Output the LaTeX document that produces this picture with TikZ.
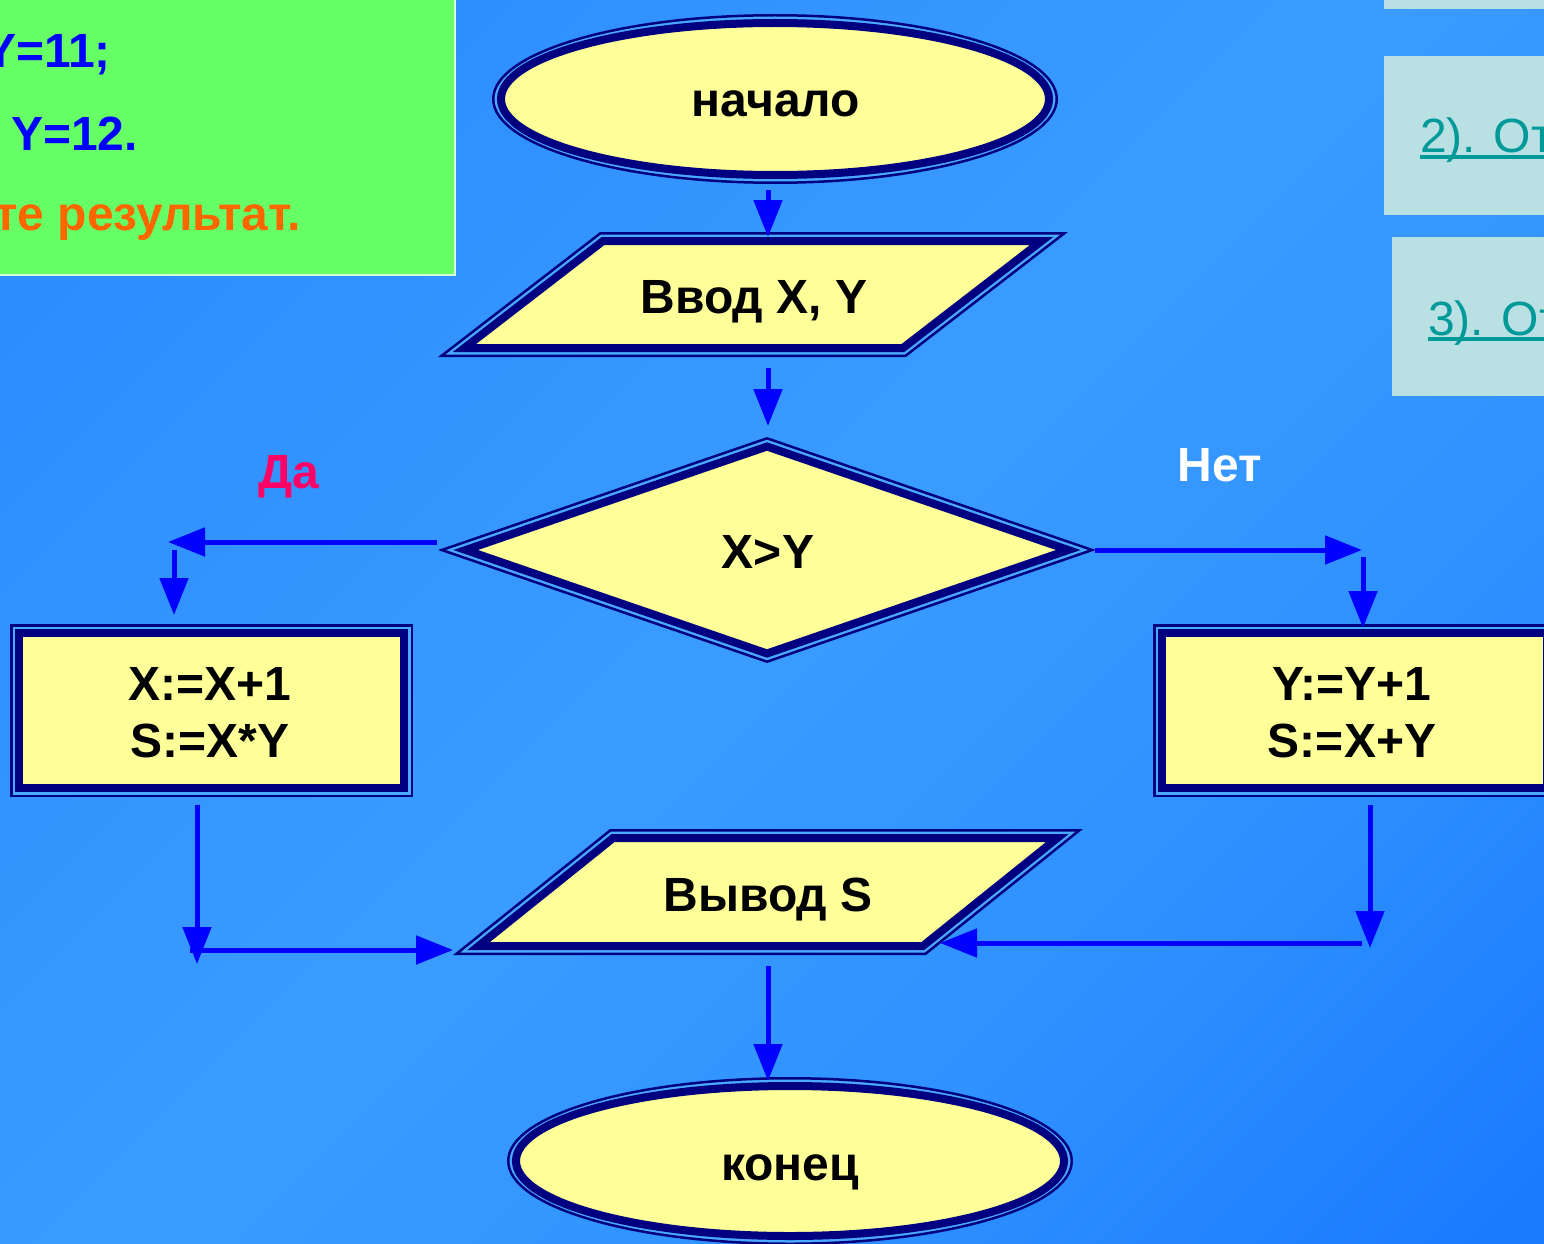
\documentclass[tikz,border=0pt]{standalone}
\usepackage{fontspec}
\setmainfont{Liberation Sans}
\usetikzlibrary{arrows.meta}
\definecolor{navy}{HTML}{000080}
\definecolor{gapc}{HTML}{4AAAFF}
\definecolor{yel}{HTML}{FFFF99}
\definecolor{arrc}{HTML}{0000FF}
\definecolor{grn}{HTML}{66FF66}
\definecolor{cyb}{HTML}{B9E0E3}
\definecolor{tealt}{HTML}{009999}
\definecolor{org}{HTML}{FF6600}
\definecolor{mag}{HTML}{FF0066}
\pgfdeclareverticalshading{bgshade}{100bp}{%
  color(0bp)=(rgb,255:red,10;green,100;blue,255);
  color(14bp)=(rgb,255:red,24;green,120;blue,255);
  color(32bp)=(rgb,255:red,46;green,144;blue,255);
  color(50bp)=(rgb,255:red,58;green,156;blue,255);
  color(75bp)=(rgb,255:red,46;green,142;blue,255);
  color(100bp)=(rgb,255:red,37;green,133;blue,255)}
\tikzset{
  outerb/.style={fill=gapc, draw=navy, line width=2.5pt},
  innerb/.style={fill=yel, draw=navy, line width=8pt, line join=miter},
  lbl/.style={font=\fontsize{48}{58}\selectfont\bfseries, anchor=base, inner sep=0pt},
  rlbl/.style={font=\fontsize{48}{58}\selectfont, anchor=base west, inner sep=0pt, text=tealt},
  arr/.style={draw=arrc, line width=5pt, -{Triangle[length=37pt,width=28pt]}},
}
\newcommand\dblell[4]{%
  \filldraw[outerb] (#1,#2) ellipse [x radius=#3pt-1.25pt, y radius=#4pt-1.25pt];
  \filldraw[innerb] (#1,#2) ellipse [x radius=#3pt-9pt, y radius=#4pt-9pt];}
\newcommand\dblrect[4]{%
  \filldraw[outerb] (#1+1.25,#2+1.25) rectangle (#3-1.25,#4-1.25);
  \filldraw[innerb] (#1+9,#2+9) rectangle (#3-9,#4-9);}
\newcommand\dbldia[4]{%
  \pgfmathsetmacro\dgL{100*sqrt((#3/100)^2+(#4/100)^2)}%
  \pgfmathsetmacro\dgAa{#3-1.25*\dgL/#4}\pgfmathsetmacro\dgBa{#4-1.25*\dgL/#3}%
  \pgfmathsetmacro\dgAb{#3-9*\dgL/#4}\pgfmathsetmacro\dgBb{#4-9*\dgL/#3}%
  \filldraw[outerb] (#1-\dgAa,#2) -- (#1,#2-\dgBa) -- (#1+\dgAa,#2) -- (#1,#2+\dgBa) -- cycle;
  \filldraw[innerb] (#1-\dgAb,#2) -- (#1,#2-\dgBb) -- (#1+\dgAb,#2) -- (#1,#2+\dgBb) -- cycle;}
\newcommand\dblpg[5]{%
  \pgfmathsetmacro\pgS{sqrt(1+#5*#5)}%
  \pgfmathsetmacro\pgHa{#4-1.25}\pgfmathsetmacro\pgWa{#3-1.25*\pgS}%
  \pgfmathsetmacro\pgHb{#4-9}\pgfmathsetmacro\pgWb{#3-9*\pgS}%
  \filldraw[outerb] ({#1-\pgWa+#5*\pgHa},{#2-\pgHa}) -- ({#1+\pgWa+#5*\pgHa},{#2-\pgHa}) -- ({#1+\pgWa-#5*\pgHa},{#2+\pgHa}) -- ({#1-\pgWa-#5*\pgHa},{#2+\pgHa}) -- cycle;
  \filldraw[innerb] ({#1-\pgWb+#5*\pgHb},{#2-\pgHb}) -- ({#1+\pgWb+#5*\pgHb},{#2-\pgHb}) -- ({#1+\pgWb-#5*\pgHb},{#2+\pgHb}) -- ({#1-\pgWb-#5*\pgHb},{#2+\pgHb}) -- cycle;}
\begin{document}
\begin{tikzpicture}[x=1pt,y=-1pt]
\useasboundingbox (0,0) rectangle (1544,1244);
\clip (0,0) rectangle (1544,1244);
% background
\shade[shading=bgshade, shading angle=45] (0,0) rectangle (1544,1244);
% green task box
\filldraw[fill=grn, draw=white!75!grn, line width=2pt] (-10,-10) rectangle (455,275);
\node[lbl, anchor=base west, text=arrc] (g1) at (-16,68) {Y=11;};
\node[lbl, anchor=base west, text=arrc] (g2) at (11,150) {Y=12.};
\node[lbl, anchor=base west, text=org] (g3) at (-6,230) {те результат.};
% right panels
\fill[cyb] (1384,-10) rectangle (1560,9);
\fill[cyb] (1384,56) rectangle (1560,215);
\fill[cyb] (1392,237) rectangle (1560,396);
\node[rlbl] (p2) at (1420,153) {2). От};
\node[rlbl] (p3) at (1428,335) {3). От};
\draw[tealt, line width=4pt] (1420,157) -- (1550,157);
\draw[tealt, line width=4pt] (1428,339) -- (1550,339);
% shapes
\dblell{775}{99}{283}{85}
\dblpg{753}{294.5}{234}{62.5}{1.296}
\dbldia{767}{550}{329}{113}
\dblrect{10}{624}{413}{797}
\dblrect{1153}{624}{1556}{797}
\dblpg{768}{892}{236.5}{63}{1.246}
\dblell{790}{1161}{283}{84}
% texts
\node[lbl] (tstart) at (776,117) {начало};
\node[lbl] (tin) at (754,313) {Ввод X, Y};
\node[lbl] (tcond) at (768,568) {X>Y};
\node[lbl] (tl1) at (210,700) {X:=X+1};
\node[lbl] (tl2) at (210,757) {S:=X*Y};
\node[lbl] (tr1) at (1352,700) {Y:=Y+1};
\node[lbl] (tr2) at (1352,757) {S:=X+Y};
\node[lbl] (tout) at (768,911) {Вывод S};
\node[lbl] (tend) at (790,1180) {конец};
\node[lbl, text=mag] (tyes) at (289,488) {Да};
\node[lbl, text=white] (tno) at (1220,481) {Нет};
% connector points
\coordinate (a1s) at (768,190); \coordinate (a1e) at (768,237);
\coordinate (a2s) at (768,368); \coordinate (a2e) at (768,426);
\coordinate (y1s) at (437,542); \coordinate (y1e) at (168,542);
\coordinate (y2s) at (174,550); \coordinate (y2e) at (174,615);
\coordinate (n1s) at (1095,550); \coordinate (n1e) at (1362,550);
\coordinate (n2s) at (1363,557); \coordinate (n2e) at (1363,628);
\coordinate (l1s) at (197,805); \coordinate (l1e) at (197,964);
\coordinate (l2s) at (190,950); \coordinate (l2e) at (453,950);
\coordinate (r1s) at (1370,805); \coordinate (r1e) at (1370,948);
\coordinate (r2s) at (1362,943); \coordinate (r2e) at (940,943);
\coordinate (b1s) at (768,966); \coordinate (b1e) at (768,1081);
% connectors
\draw[arr] (a1s) -- (a1e);
\draw[arr] (a2s) -- (a2e);
\draw[arr] (y1s) -- (y1e);
\draw[arr] (y2s) -- (y2e);
\draw[arr] (n1s) -- (n1e);
\draw[arr] (n2s) -- (n2e);
\draw[arr] (l1s) -- (l1e);
\draw[arr] (l2s) -- (l2e);
\draw[arr] (r1s) -- (r1e);
\draw[arr] (r2s) -- (r2e);
\draw[arr] (b1s) -- (b1e);
\end{tikzpicture}
\end{document}
